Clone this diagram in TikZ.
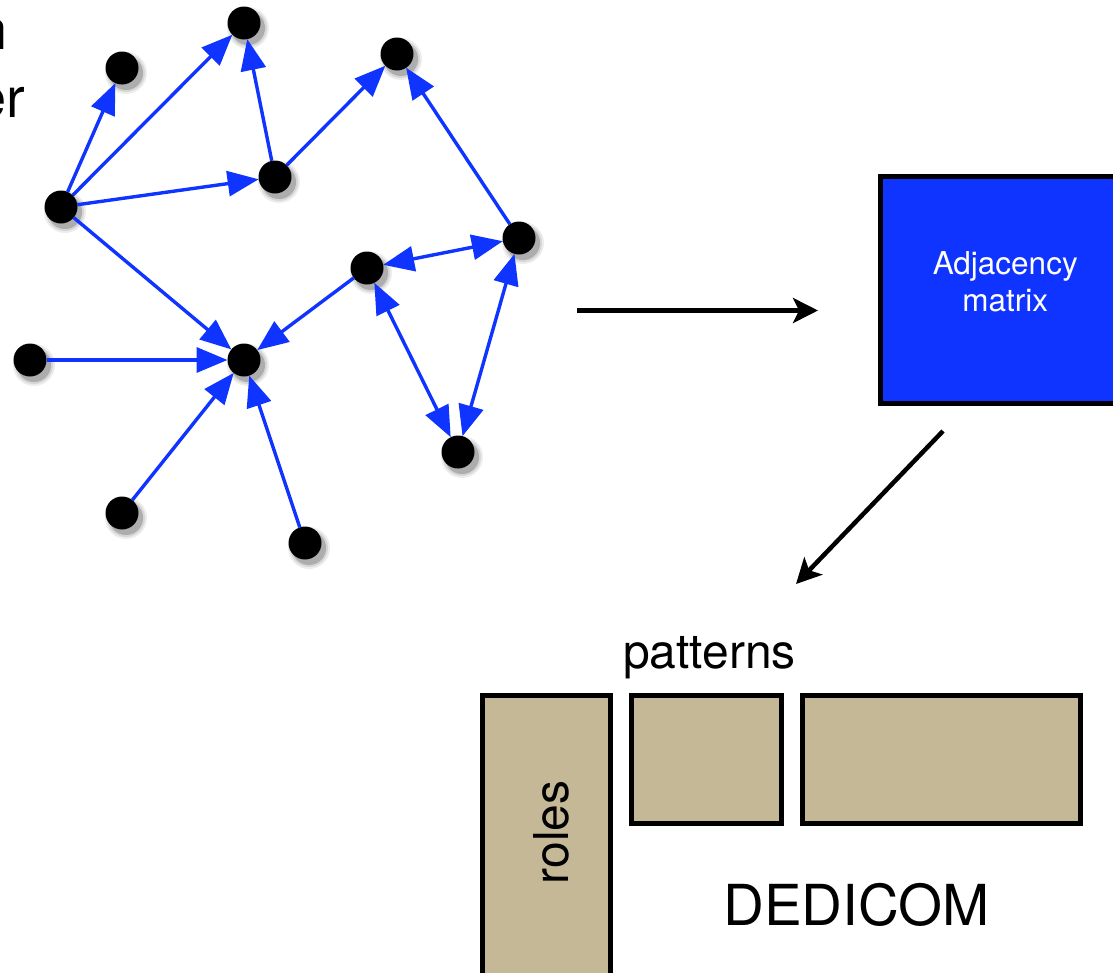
\documentclass[tikz,border=0pt]{standalone}
\usepackage{fontspec}
\setmainfont{TeX Gyre Heros}
\usetikzlibrary{arrows.meta}
\definecolor{nblue}{RGB}{16,52,255}
\definecolor{tanc}{RGB}{196,184,150}
\tikzset{
  vert/.style={circle, fill=black, minimum size=33pt, inner sep=0pt, outer sep=0pt,
    preaction={fill=black!7, draw=black!7, line width=9pt, transform canvas={shift={(4pt,-5pt)}}},
    preaction={fill=black!16, draw=black!16, line width=5pt, transform canvas={shift={(4pt,-5pt)}}},
    preaction={fill=black!32, draw=black!32, line width=1pt, transform canvas={shift={(4pt,-5pt)}}}},
  link/.style={draw=nblue, line width=3.4pt, -{Triangle[length=31pt,width=25pt]}},
  linkboth/.style={draw=nblue, line width=3.4pt, {Triangle[length=31pt,width=25pt]}-{Triangle[length=31pt,width=25pt]}},
  bigarrow/.style={draw=black, line width=4.5pt, -{Stealth[length=25pt,width=25pt,inset=6pt]}},
  tanbox/.style={draw=black, line width=5pt, fill=tanc, inner sep=0pt},
  lbl/.style={inner sep=0pt, text=black},
}
\begin{document}
\begin{tikzpicture}[x=1pt,y=-1pt]
\useasboundingbox (0,0) rectangle (1113,972);
\clip (0,0) rectangle (1113,972);

% cut-off text at top left
\node[lbl, anchor=base east, font=\fontsize{56}{60}\selectfont] (t1) at (7.7,49) {n};
\node[lbl, anchor=base east, font=\fontsize{56}{60}\selectfont] (t2) at (25,117) {er};

% graph vertices
\node[vert] (n1) at (61,207) {};
\node[vert] (n2) at (122,68) {};
\node[vert] (n3) at (244,23) {};
\node[vert] (n4) at (275,177) {};
\node[vert] (n5) at (397,54) {};
\node[vert] (n6) at (519,238) {};
\node[vert] (n7) at (367,268) {};
\node[vert] (n8) at (244,360) {};
\node[vert] (n9) at (30,360) {};
\node[vert] (n10) at (458,452) {};
\node[vert] (n11) at (122,513) {};
\node[vert] (n12) at (305,543) {};

% graph edges
\draw[link] (n1) -- (n2);
\draw[link] (n1) -- (n3);
\draw[link] (n1) -- (n4);
\draw[link] (n1) -- (n8);
\draw[link] (n4) -- (n3);
\draw[link] (n4) -- (n5);
\draw[link] (n6) -- (n5);
\draw[linkboth] (n7) -- (n6);
\draw[link] (n7) -- (n8);
\draw[linkboth] (n7) -- (n10);
\draw[linkboth] (n6) -- (n10);
\draw[link] (n9) -- (n8);
\draw[link] (n11) -- (n8);
\draw[link] (n12) -- (n8);

% adjacency matrix box
\node[draw=black, line width=5pt, fill=nblue, minimum width=249.5pt, minimum height=227pt, inner sep=0pt] (adj) at (1005.25,290) {};
\node[text=white, align=center, inner sep=0pt, font=\fontsize{31.5}{37.3}\selectfont] (adjtxt) at ([yshift=8pt]adj.center) {Adjacency\\matrix};

% black arrows
\coordinate (a1s) at (577,310.5);
\coordinate (a1e) at (818,310.5);
\draw[bigarrow] (a1s) -- (a1e);
\coordinate (a2s) at (943,431);
\coordinate (a2e) at (796,584);
\draw[bigarrow] (a2s) -- (a2e);

% DEDICOM boxes
\node[tanbox, minimum width=128pt, minimum height=315pt] (roles) at (546,852.5) {};
\node[tanbox, minimum width=150pt, minimum height=128pt] (p1) at (706,759) {};
\node[tanbox, minimum width=278pt, minimum height=128pt] (p2) at (941,759) {};

\node[lbl, rotate=90, anchor=base, font=\fontsize{48}{52}\selectfont] (rolestxt) at (568.5,832.5) {roles};
\node[lbl, anchor=base, font=\fontsize{48}{52}\selectfont] (pat) at (709.5,668) {patterns};
\node[lbl, anchor=base, font=\fontsize{56.5}{60}\selectfont] (ded) at (856.5,925) {DEDICOM};
\end{tikzpicture}
\end{document}
